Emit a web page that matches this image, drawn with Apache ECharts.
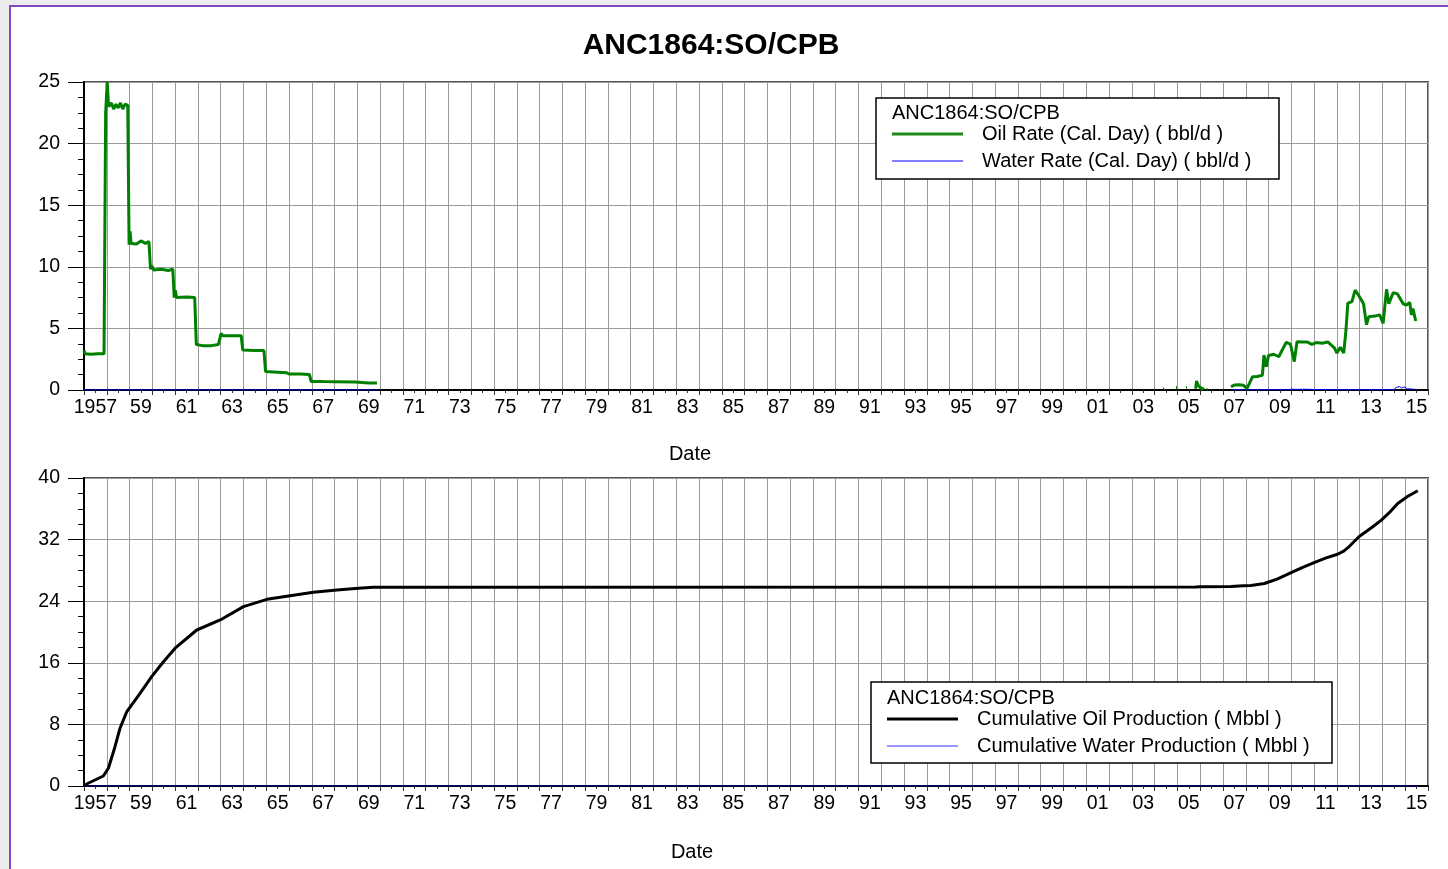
<!DOCTYPE html>
<html>
<head>
<meta charset="utf-8">
<script src="https://cdn.jsdelivr.net/npm/echarts@6/dist/echarts.min.js"></script>
<style>
  html, body { margin: 0; padding: 0; background: #fff; }
  #chart { width: 1448px; height: 869px; }
</style>
</head>
<body>
<div id="chart"></div>
<script>
// ---------- DATA ----------
const chartTitle = 'ANC1864:SO/CPB';
const yearCategories = [];
for (let y = 1957; y <= 2015; y++) yearCategories.push(y);
const rateTicks = [0, 5, 10, 15, 20, 25];
const cumTicks = [0, 8, 16, 24, 32, 40];

// Oil Rate (Cal. Day) (bbl/d); null = gap
const oilRateYears = [
  1957.00, 1957.05, 1957.30, 1957.60, 1957.88, 1957.95, 1958.02, 1958.08, 1958.20, 1958.30,
  1958.40, 1958.50, 1958.60, 1958.70, 1958.80, 1958.92, 1958.98, 1959.02, 1959.07, 1959.30,
  1959.50, 1959.70, 1959.85, 1959.92, 1959.97, 1960.05, 1960.40, 1960.70, 1960.90, 1960.96,
  1961.01, 1961.06, 1961.50, 1961.86, 1961.93, 1962.20, 1962.60, 1962.90, 1963.02, 1963.10,
  1963.50, 1963.90, 1963.97, 1964.50, 1964.90, 1964.97, 1965.50, 1965.90, 1966.00, 1966.50,
  1966.90, 1966.97, 1967.50, 1968.00, 1968.90, 1968.95, 1969.50, 1969.86, 1969.90,
  2004.38, 2004.42, 2004.45, 2004.94, 2004.98, 2005.00, 2005.38, 2005.42, 2005.45,
  2005.80, 2005.84, 2005.90, 2006.00, 2006.17, 2006.20, 2006.28, 2006.32, 2006.35,
  2007.35, 2007.50, 2007.70, 2007.90, 2008.05, 2008.15, 2008.30, 2008.50, 2008.73, 2008.80,
  2008.90, 2009.00, 2009.23, 2009.45, 2009.60, 2009.78, 2009.96, 2010.13, 2010.25, 2010.50,
  2010.69, 2010.90, 2011.10, 2011.35, 2011.60, 2011.90, 2012.00, 2012.15, 2012.30, 2012.40,
  2012.48, 2012.66, 2012.80, 2012.95, 2013.17, 2013.30, 2013.40, 2013.67, 2013.88, 2014.03,
  2014.18, 2014.28, 2014.47, 2014.66, 2014.91, 2015.05, 2015.20, 2015.27, 2015.34, 2015.46
];
const oilRateValues = [
  3.2, 2.95, 2.9, 2.95, 2.95, 22.5, 25.0, 23.0, 23.3, 22.8,
  23.2, 22.9, 23.3, 22.8, 23.2, 23.1, 11.8, 12.9, 11.9, 11.85,
  12.1, 11.9, 12.05, 9.8, 10.1, 9.75, 9.8, 9.7, 9.8, 7.5,
  8.1, 7.5, 7.55, 7.5, 3.7, 3.6, 3.6, 3.7, 4.6, 4.4,
  4.4, 4.4, 3.25, 3.2, 3.2, 1.5, 1.45, 1.4, 1.3, 1.3,
  1.25, 0.7, 0.68, 0.67, 0.65, 0.57, 0.56, 0.56, null,
  0.08, 0.12, null, 0.2, 0.2, null, 0.2, 0.22, null,
  0.1, 0.73, 0.4, 0.2, 0.05, null, 0.05, 0.05, null,
  0.27, 0.4, 0.42, 0.38, 0.12, 0.5, 1.08, 1.1, 1.2, 2.84,
  1.9, 2.8, 2.9, 2.7, 3.25, 3.87, 3.73, 2.3, 3.92, 3.9,
  3.9, 3.7, 3.85, 3.8, 3.9, 3.4, 3.0, 3.46, 3.0, 4.87,
  7.04, 7.17, 8.1, 7.7, 7.0, 5.3, 5.95, 6.0, 6.1, 5.4,
  8.17, 7.0, 7.9, 7.8, 7.0, 6.9, 7.1, 6.1, 6.6, 5.6
];

// Water Rate (Cal. Day) (bbl/d)
const waterRateYears = [1957.00, 1969.86, 1969.90, 2007.35, 2009.90, 2010.00, 2010.30, 2010.60, 2011.00, 2011.50, 2014.50, 2014.60, 2014.75, 2014.85, 2014.95, 2015.10, 2015.46];
const waterRateValues = [0, 0, null, 0, 0.03, 0.06, 0.05, 0.06, 0.04, 0.03, 0.03, 0.2, 0.28, 0.15, 0.25, 0.1, 0.05];

// Cumulative Oil Production (Mbbl)
const cumOilYears = [
  1957.00, 1957.85, 1958.07, 1958.36, 1958.58, 1958.88, 1959.46, 1959.97, 1960.48, 1961.00,
  1961.95, 1962.98, 1964.00, 1965.03, 1966.05, 1967.07, 1968.10, 1969.05, 1969.70, 1969.86,
  2005.80, 2006.00, 2007.35, 2007.90, 2008.23, 2008.82, 2009.40, 2009.99, 2010.50, 2011.00,
  2011.50, 2012.03, 2012.30, 2012.54, 2012.98, 2013.50, 2013.94, 2014.30, 2014.67, 2015.10, 2015.55
];
const cumOilValues = [
  0.1, 1.3, 2.3, 5.1, 7.5, 9.65, 12.04, 14.2, 16.1, 17.9,
  20.26, 21.56, 23.3, 24.24, 24.7, 25.15, 25.45, 25.67, 25.8, 25.82,
  25.85, 25.88, 25.9, 26.0, 26.05, 26.3, 26.9, 27.7, 28.4, 29.0,
  29.6, 30.1, 30.5, 31.1, 32.4, 33.5, 34.5, 35.5, 36.7, 37.6, 38.35
];

// Cumulative Water Production (Mbbl)
const cumWaterYears = [1957.00, 1990.00, 2015.55];
const cumWaterValues = [0, 0, 0];

// ---------- HELPERS ----------
function pairs(xs, ys) {
  return xs.map((x, i) => [x, ys[i] === null ? '-' : ys[i]]);
}
const FONT = '"Liberation Sans", Arial, sans-serif';
const GRID_COLOR = '#9a9a9a';
const TICK_FONT = 19.5;
const LEG_FONT = 20;

function yearLabel(v) {
  const y = Number(v);
  if (y === 1957) return '1957';
  return String(y % 100).padStart(2, '0');
}

function valueXAxis(gridIndex) {
  return {
    type: 'value', gridIndex: gridIndex, min: 1957, max: 2016, interval: 1,
    position: 'bottom',
    axisLine: { show: true, onZero: false, lineStyle: { color: '#000', width: 2 } },
    axisTick: { show: true, length: 5, lineStyle: { color: '#333', width: 1 } },
    minorTick: { show: true, splitNumber: 2, length: 3, lineStyle: { color: '#333', width: 1 } },
    axisLabel: { show: false },
    splitLine: { show: true, lineStyle: { color: GRID_COLOR, width: 1 } },
    z: 1
  };
}
function catXAxis(gridIndex) {
  return {
    type: 'category', gridIndex: gridIndex, data: yearCategories, boundaryGap: true,
    position: 'bottom',
    axisLine: { show: false }, axisTick: { show: false }, splitLine: { show: false },
    axisLabel: { show: true, interval: 1, margin: 8, color: '#000', fontSize: TICK_FONT, fontFamily: FONT, formatter: yearLabel }
  };
}
function yAxis(gridIndex, ticks) {
  const step = ticks[1] - ticks[0];
  return {
    type: 'value', gridIndex: gridIndex, min: ticks[0], max: ticks[ticks.length - 1], interval: step,
    axisLine: { show: true, lineStyle: { color: '#000', width: 2 } },
    axisTick: { show: true, length: 16, lineStyle: { color: '#000', width: 1 } },
    minorTick: { show: true, splitNumber: 4, length: 6, lineStyle: { color: '#000', width: 1 } },
    axisLabel: { show: true, margin: 24, color: '#000', fontSize: TICK_FONT, fontFamily: FONT },
    splitLine: { show: true, lineStyle: { color: GRID_COLOR, width: 1 } },
    z: 1
  };
}

function txt(x, y, text, size, align, weight) {
  return {
    type: 'text', x: x, y: y, z: 110,
    style: { text: text, fontSize: size, fontWeight: weight || 'normal', fontFamily: FONT, fill: '#000', textAlign: align || 'left', textVerticalAlign: 'middle' }
  };
}
function seg(x1, y1, x2, color, w) {
  return { type: 'line', z: 110, shape: { x1: x1, y1: y1, x2: x2, y2: y1 }, style: { stroke: color, lineWidth: w } };
}

const chart = echarts.init(document.getElementById('chart'), null, { renderer: 'canvas' });

const option = {
  animation: false,
  backgroundColor: '#ffffff',
  grid: [
    { left: 84, top: 82, width: 1344, height: 308, show: true, borderColor: '#555', borderWidth: 2, backgroundColor: 'transparent' },
    { left: 84, top: 478, width: 1344, height: 308, show: true, borderColor: '#555', borderWidth: 2, backgroundColor: 'transparent' }
  ],
  xAxis: [valueXAxis(0), catXAxis(0), valueXAxis(1), catXAxis(1)],
  yAxis: [yAxis(0, rateTicks), yAxis(1, cumTicks)],
  series: [
    { name: 'Water Rate (Cal. Day) ( bbl/d )', type: 'line', xAxisIndex: 0, yAxisIndex: 0, showSymbol: false,
      data: pairs(waterRateYears, waterRateValues), lineStyle: { color: '#0000ff', width: 1 }, z: 3 },
    { name: 'Oil Rate (Cal. Day) ( bbl/d )', type: 'line', xAxisIndex: 0, yAxisIndex: 0, showSymbol: false,
      data: pairs(oilRateYears, oilRateValues), lineStyle: { color: '#008000', width: 3 }, clip: false, z: 4 },
    { name: 'Cumulative Water Production ( Mbbl )', type: 'line', xAxisIndex: 2, yAxisIndex: 1, showSymbol: false,
      data: pairs(cumWaterYears, cumWaterValues), lineStyle: { color: '#0000cc', width: 1 }, z: 3 },
    { name: 'Cumulative Oil Production ( Mbbl )', type: 'line', xAxisIndex: 2, yAxisIndex: 1, showSymbol: false,
      data: pairs(cumOilYears, cumOilValues), lineStyle: { color: '#000000', width: 3 }, z: 4 }
  ],
  graphic: [
    // outer frame
    { type: 'rect', z: 120, shape: { x: 0, y: 0, width: 1448, height: 5 }, style: { fill: '#ececec' } },
    { type: 'rect', z: 120, shape: { x: 0, y: 0, width: 9, height: 869 }, style: { fill: '#ececec' } },
    { type: 'line', z: 121, shape: { x1: 9, y1: 6, x2: 1448, y2: 6 }, style: { stroke: '#8248bf', lineWidth: 2 } },
    { type: 'line', z: 121, shape: { x1: 10, y1: 5, x2: 10, y2: 869 }, style: { stroke: '#8248bf', lineWidth: 2 } },
    // title
    txt(711, 46, chartTitle, 30, 'center', 'bold'),
    // axis names
    txt(690, 454, 'Date', LEG_FONT, 'center'),
    txt(692, 852, 'Date', LEG_FONT, 'center'),
    // top legend
    { type: 'rect', z: 105, shape: { x: 876, y: 98, width: 403, height: 81 }, style: { fill: '#fff', stroke: '#000', lineWidth: 1.5 } },
    txt(892, 113, chartTitle, LEG_FONT),
    seg(892, 134, 963, '#1a8a1a', 3),
    txt(982, 134, 'Oil Rate (Cal. Day) ( bbl/d )', LEG_FONT),
    seg(892, 161, 963, '#0000ff', 1),
    txt(982, 161, 'Water Rate (Cal. Day) ( bbl/d )', LEG_FONT),
    // bottom legend
    { type: 'rect', z: 105, shape: { x: 871, y: 682, width: 461, height: 81 }, style: { fill: '#fff', stroke: '#000', lineWidth: 1.5 } },
    txt(887, 698, chartTitle, LEG_FONT),
    seg(887, 719, 958, '#000', 3),
    txt(977, 719, 'Cumulative Oil Production ( Mbbl )', LEG_FONT),
    seg(887, 746, 958, '#3030ff', 1),
    txt(977, 746, 'Cumulative Water Production ( Mbbl )', LEG_FONT)
  ]
};
chart.setOption(option);
</script>
</body>
</html>
